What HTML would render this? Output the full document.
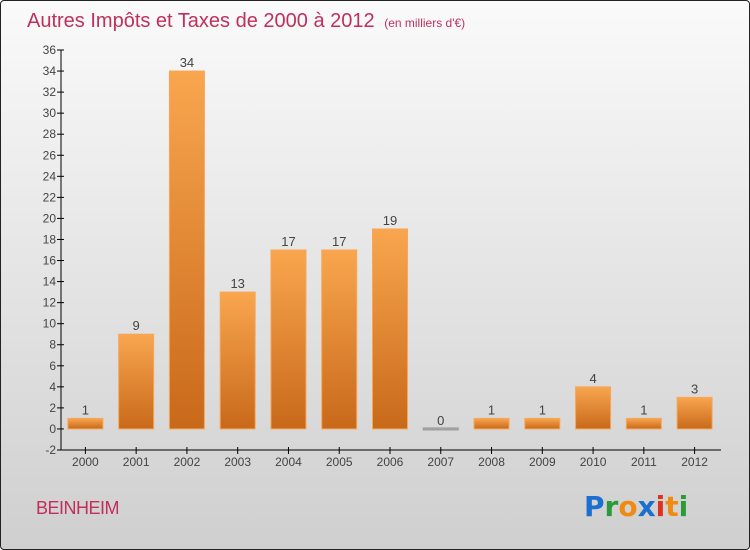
<!DOCTYPE html>
<html><head><meta charset="utf-8"><style>
html,body{margin:0;padding:0;}
body{width:750px;height:550px;overflow:hidden;font-family:"Liberation Sans","DejaVu Sans",sans-serif;}
#frame{position:absolute;left:0;top:0;width:748px;height:548px;border:1px solid #222;border-radius:4px;background:linear-gradient(#fafafa,#cfcfcf);}
</style></head><body>
<div id="frame"></div>
<svg id="chart" width="750" height="550" style="position:absolute;left:0;top:0">
<defs>
<linearGradient id="bg" x1="0" y1="0" x2="0" y2="1"><stop offset="0" stop-color="#f9a64f"/><stop offset="1" stop-color="#c8691a"/></linearGradient>
</defs>
<text x="27" y="27" font-size="20" fill="#c0305d">Autres Impôts et Taxes de 2000 à 2012 <tspan font-size="12" dx="4">(en milliers d'€)</tspan></text>
<text x="36" y="514" font-size="18" letter-spacing="-0.5" fill="#c0305d">BEINHEIM</text>
<g font-size="28" font-weight="bold" font-family="'DejaVu Sans',sans-serif">
<text x="584" y="516"><tspan fill="#1a6fcf">P</tspan><tspan fill="#2a9a3a">r</tspan><tspan fill="#f08a10">o</tspan><tspan fill="#1a6fcf">x</tspan><tspan fill="#e03020">i</tspan><tspan fill="#f08a10">t</tspan><tspan fill="#2a9a3a">i</tspan></text>
</g>
<g id="axes"></g><g id="bars"></g>
</svg>
<script>
const categories=["2000","2001","2002","2003","2004","2005","2006","2007","2008","2009","2010","2011","2012"];
const values=[1,9,34,13,17,17,19,0,1,1,4,1,3];
const yTicks=[-2,0,2,4,6,8,10,12,14,16,18,20,22,24,26,28,30,32,34,36];
const NS="http://www.w3.org/2000/svg";
const x0=61,x1=721,yTop=50,yBot=450,yMin=-2,yMax=36;
const band=(x1-x0)/categories.length;
function y(v){return yBot-(v-yMin)/(yMax-yMin)*(yBot-yTop);}
function xc(i){return x0-1+band*(i+0.5);}
function mk(tag,attrs,parent){const e=document.createElementNS(NS,tag);for(const k in attrs)e.setAttribute(k,attrs[k]);parent.appendChild(e);return e;}
const ax=document.getElementById('axes'),bars=document.getElementById('bars');
let l=mk('line',{x1:x0,y1:yTop,x2:x0,y2:yBot,stroke:'#000'},ax);


l=mk('line',{x1:x0,y1:yBot,x2:x1,y2:yBot,stroke:'#000'},ax);


yTicks.forEach(t=>{
 mk('line',{x1:x0-4,y1:y(t),x2:x0+3,y2:y(t),stroke:'#000'},ax);
 const tx=mk('text',{x:x0-5,y:y(t)+4,'font-size':12,fill:'#444','text-anchor':'end'},ax);
 tx.textContent=t;
 
 
});
categories.forEach((c,i)=>{
 mk('line',{x1:xc(i),y1:yBot-3,x2:xc(i),y2:yBot+4,stroke:'#000'},ax);
 const tx=mk('text',{x:xc(i),y:yBot+16,'font-size':12,fill:'#444','text-anchor':'middle'},ax);
 tx.textContent=c;
 
 
 const v=values[i];const top=y(Math.max(v,0)),h=Math.max(Math.abs(y(v)-y(0)),1);
 const r=mk('rect',{x:xc(i)-17.5,y:v===0?y(0)-1:top,width:35,height:v===0?2:h,fill:v===0?'#aaa':'url(#bg)',stroke:v===0?'#999':'#f7a65a','stroke-width':1},bars);
 
 
 const lb=mk('text',{x:xc(i),y:top-4,'font-size':13,fill:'#444','text-anchor':'middle'},bars);
 lb.textContent=v;
 
 
});
</script>
</body></html>
